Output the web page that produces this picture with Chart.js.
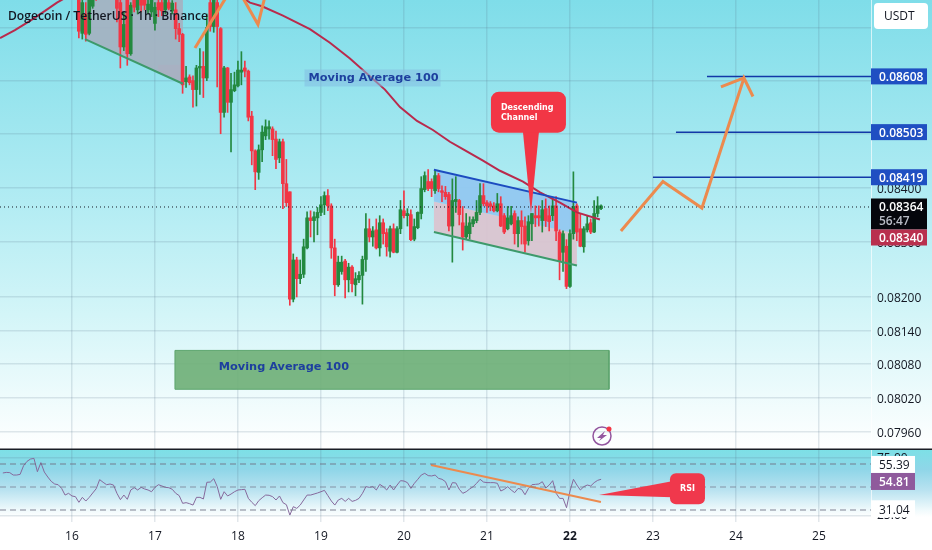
<!DOCTYPE html>
<html>
<head>
<meta charset="utf-8">
<title>Dogecoin / TetherUS</title>
<script src="https://cdn.jsdelivr.net/npm/chart.js@4"></script>
<style>
  html, body { margin: 0; padding: 0; background: #fff; }
  canvas { display: block; }
</style>
</head>
<body>
<canvas id="chart" width="932" height="550"></canvas>
<script>
// --- data ---
const dayTicks = [16, 17, 18, 19, 20, 21, 22, 23, 24, 25];
const priceTicks = [0.087, 0.086, 0.085, 0.084, 0.083, 0.082, 0.0814, 0.0808, 0.0802, 0.0796];
const rsiTicks = [75, 25];
const rsiLevels = [70, 50, 30];

// hourly candles, first one at 16.083
const firstCandleDay = 16.083;
const opens = [
  0.08759,0.08690,0.08727,0.08690,0.08742,0.08764,0.08768,0.08770,0.08790,0.08810,
  0.08785,0.08759,0.08749,0.08664,0.08755,0.08651,0.08757,0.08735,0.08759,0.08755,
  0.08735,0.08731,0.08709,0.08749,0.08749,0.08735,0.08749,0.08733,0.08735,0.08699,
  0.08688,0.08598,0.08607,0.08600,0.08583,0.08624,0.08627,0.08605,0.08749,0.08703,
  0.08749,0.08699,0.08540,0.08624,0.08559,0.08581,0.08590,0.08616,0.08624,0.08618,
  0.08533,0.08468,0.08428,0.08470,0.08496,0.08509,0.08509,0.08490,0.08455,0.08485,
  0.08407,0.08392,0.08196,0.08267,0.08233,0.08241,0.08289,0.08344,0.08339,0.08344,
  0.08354,0.08368,0.08385,0.08366,0.08289,0.08222,0.08246,0.08265,0.08231,0.08254,
  0.08222,0.08231,0.08239,0.08268,0.08324,0.08309,0.08322,0.08289,0.08335,0.08317,
  0.08283,0.08324,0.08281,0.08324,0.08357,0.08348,0.08350,0.08305,0.08326,0.08352,
  0.08396,0.08411,0.08411,0.08394,0.08422,0.08394,0.08391,0.08387,0.08329,0.08374,
  0.08376,0.08335,0.08309,0.08315,0.08333,0.08339,0.08354,0.08385,0.08372,0.08370,
  0.08366,0.08357,0.08370,0.08348,0.08324,0.08333,0.08352,0.08315,0.08339,0.08329,
  0.08302,0.08333,0.08348,0.08348,0.08339,0.08361,0.08348,0.08348,0.08366,0.08318,
  0.08281,0.08292,0.08219,0.08315,0.08366,0.08324,0.08291,0.08322,0.08335,0.08318,
  0.08352,0.08361
];
const closes = [
  0.08694,0.08749,0.08688,0.08755,0.08764,0.08755,0.08761,0.08790,0.08810,0.08785,
  0.08765,0.08738,0.08664,0.08707,0.08651,0.08744,0.08740,0.08759,0.08744,0.08744,
  0.08746,0.08755,0.08740,0.08735,0.08733,0.08755,0.08738,0.08748,0.08699,0.08688,
  0.08592,0.08605,0.08596,0.08583,0.08624,0.08627,0.08605,0.08701,0.08703,0.08759,
  0.08703,0.08540,0.08624,0.08559,0.08583,0.08592,0.08620,0.08620,0.08618,0.08531,
  0.08468,0.08429,0.08470,0.08503,0.08513,0.08513,0.08489,0.08452,0.08485,0.08407,
  0.08372,0.08196,0.08267,0.08233,0.08241,0.08291,0.08344,0.08339,0.08346,0.08354,
  0.08368,0.08385,0.08366,0.08289,0.08222,0.08263,0.08263,0.08231,0.08254,0.08224,
  0.08233,0.08239,0.08268,0.08324,0.08309,0.08320,0.08289,0.08335,0.08315,0.08291,
  0.08324,0.08281,0.08324,0.08359,0.08348,0.08352,0.08304,0.08328,0.08354,0.08398,
  0.08422,0.08398,0.08398,0.08422,0.08398,0.08391,0.08383,0.08329,0.08376,0.08378,
  0.08350,0.08309,0.08329,0.08335,0.08341,0.08354,0.08385,0.08370,0.08366,0.08365,
  0.08357,0.08370,0.08329,0.08318,0.08344,0.08348,0.08315,0.08339,0.08328,0.08296,
  0.08337,0.08352,0.08344,0.08344,0.08359,0.08339,0.08337,0.08366,0.08320,0.08265,
  0.08315,0.08219,0.08315,0.08365,0.08318,0.08292,0.08324,0.08333,0.08318,0.08352,
  0.08366,0.08366
];
const highs = [
  0.08764,0.08757,0.08749,0.08764,0.08768,0.08768,0.08775,0.08800,0.08820,0.08825,
  0.08795,0.08764,0.08759,0.08731,0.08759,0.08749,0.08761,0.08764,0.08764,0.08761,
  0.08757,0.08761,0.08749,0.08759,0.08757,0.08761,0.08755,0.08753,0.08749,0.08709,
  0.08690,0.08627,0.08611,0.08609,0.08629,0.08661,0.08655,0.08727,0.08761,0.08764,
  0.08759,0.08701,0.08627,0.08625,0.08614,0.08616,0.08637,0.08655,0.08637,0.08620,
  0.08542,0.08470,0.08479,0.08515,0.08526,0.08524,0.08513,0.08505,0.08490,0.08490,
  0.08452,0.08392,0.08278,0.08272,0.08267,0.08305,0.08355,0.08357,0.08355,0.08363,
  0.08383,0.08392,0.08396,0.08370,0.08305,0.08274,0.08274,0.08268,0.08261,0.08257,
  0.08244,0.08246,0.08274,0.08352,0.08342,0.08328,0.08342,0.08348,0.08342,0.08324,
  0.08329,0.08333,0.08328,0.08376,0.08394,0.08361,0.08359,0.08342,0.08355,0.08420,
  0.08429,0.08433,0.08416,0.08431,0.08426,0.08403,0.08402,0.08391,0.08416,0.08420,
  0.08378,0.08365,0.08352,0.08346,0.08346,0.08376,0.08407,0.08407,0.08376,0.08374,
  0.08372,0.08389,0.08383,0.08352,0.08365,0.08365,0.08357,0.08346,0.08357,0.08346,
  0.08348,0.08352,0.08366,0.08366,0.08376,0.08379,0.08366,0.08379,0.08383,0.08322,
  0.08320,0.08304,0.08322,0.08429,0.08370,0.08352,0.08328,0.08348,0.08342,0.08376,
  0.08383,0.08368
];
const lows = [
  0.08681,0.08679,0.08675,0.08687,0.08738,0.08753,0.08759,0.08765,0.08785,0.08780,
  0.08758,0.08712,0.08624,0.08657,0.08629,0.08648,0.08731,0.08727,0.08731,0.08735,
  0.08727,0.08722,0.08696,0.08722,0.08724,0.08727,0.08735,0.08727,0.08679,0.08674,
  0.08576,0.08587,0.08592,0.08550,0.08552,0.08574,0.08568,0.08600,0.08694,0.08692,
  0.08588,0.08500,0.08531,0.08540,0.08466,0.08579,0.08588,0.08592,0.08607,0.08524,
  0.08442,0.08396,0.08415,0.08448,0.08489,0.08490,0.08459,0.08435,0.08446,0.08361,
  0.08365,0.08185,0.08191,0.08200,0.08224,0.08235,0.08287,0.08309,0.08300,0.08313,
  0.08348,0.08350,0.08357,0.08270,0.08202,0.08219,0.08241,0.08198,0.08209,0.08209,
  0.08202,0.08226,0.08187,0.08246,0.08300,0.08292,0.08287,0.08274,0.08296,0.08274,
  0.08272,0.08280,0.08280,0.08315,0.08344,0.08329,0.08302,0.08302,0.08324,0.08342,
  0.08392,0.08394,0.08383,0.08389,0.08392,0.08374,0.08378,0.08320,0.08263,0.08354,
  0.08331,0.08285,0.08305,0.08305,0.08328,0.08335,0.08350,0.08366,0.08354,0.08357,
  0.08355,0.08355,0.08328,0.08315,0.08322,0.08331,0.08296,0.08291,0.08296,0.08281,
  0.08294,0.08302,0.08328,0.08329,0.08318,0.08328,0.08320,0.08339,0.08302,0.08231,
  0.08246,0.08215,0.08217,0.08305,0.08302,0.08291,0.08281,0.08318,0.08315,0.08317,
  0.08346,0.08359
];

// moving average 100
const maDays = [15.133,15.313,15.494,15.675,15.819,16.337,17.181,17.783,18.145,18.289,18.542,18.867,19.108,19.349,19.771,19.952,20.157,20.349,20.554,20.699,20.952,21.157,21.434,21.639,21.880,22.084,22.361];
const maPrices = [0.08681,0.08696,0.08714,0.08733,0.08749,0.08796,0.08823,0.08787,0.08749,0.08742,0.08724,0.08698,0.08672,0.08642,0.08583,0.08550,0.08524,0.08507,0.08485,0.08472,0.08450,0.08431,0.08411,0.08391,0.08372,0.08354,0.08341];

// RSI, hourly, first point at 15.167
const firstRsiDay = 15.167;
const rsiValues = [
  62.2,62.7,62.5,60.4,60.4,61.0,68.5,72.3,74.3,74.9,63.3,71.2,63.0,58.7,54.9,52.6,52.0,48.8,43.0,44.5,
  42.2,41.6,36.7,41.0,37.8,41.0,44.8,48.5,56.4,54.1,52.0,52.6,51.7,44.5,39.0,43.0,39.3,47.4,49.4,47.4,
  49.7,48.3,47.4,45.9,49.7,52.0,50.9,49.7,49.4,48.0,44.5,42.5,35.8,36.4,35.5,34.3,41.0,41.0,39.6,54.1,
  54.3,57.2,50.3,39.3,45.9,42.2,43.9,45.9,47.4,47.7,48.0,40.1,36.7,33.8,38.1,40.7,43.0,42.8,41.6,38.7,
  42.2,36.4,34.6,25.6,32.9,31.4,34.3,38.7,43.0,43.0,43.9,44.8,45.9,47.1,42.5,37.8,34.3,38.7,40.1,37.5,
  40.1,37.5,38.4,40.1,44.5,50.3,49.7,50.3,47.4,52.3,50.3,47.4,51.7,47.4,51.7,55.5,55.2,53.8,48.8,53.2,
  56.7,60.4,61.9,59.9,59.6,60.4,57.5,56.7,54.6,47.4,53.8,53.5,48.0,44.5,45.9,48.3,50.3,53.2,56.7,54.3,
  53.8,53.8,53.8,53.2,46.5,48.0,50.3,47.4,45.1,48.8,48.0,43.3,48.8,52.0,52.3,52.6,54.6,49.1,51.7,55.5,
  44.5,40.1,40.1,32.0,46.5,56.7,51.7,47.4,50.3,51.7,50.9,53.8,55.8,56.7
];

// drawn channels
const channel1Days = [16.157, 17.337, 17.337, 16.157];
const channel1Prices = [0.08679, 0.08594, 0.08759, 0.08759];
const channel1PinkDays = [17.036, 17.337, 17.337, 17.036];
const channel1PinkPrices = [0.08630, 0.08630, 0.08594, 0.08616];
const channel2Days = [20.361, 22.084];
const channel2Top = [0.08433, 0.08372];
const channel2Mid = [0.08374, 0.08315];
const channel2Bottom = [0.08318, 0.08257];

// orange drawings
const arrowDays = [22.614, 23.120, 23.590, 24.096, 24.205, 24.096, 23.819];
const arrowPrices = [0.08320, 0.08411, 0.08362, 0.08605, 0.08570, 0.08605, 0.08588];
const oldArrowDays = [17.482, 17.892];
const oldArrowPrices = [0.08662, 0.08768];
const oldHeadDays = [18.024, 18.241, 18.337];
const oldHeadPrices = [0.08768, 0.08707, 0.08768];
const rsiTrendDays = [20.325, 22.373];
const rsiTrendValues = [69.1, 37.0];

// target levels
const levelPrices = [0.08608, 0.08503, 0.08419];
const levelStartDays = [23.651, 23.277, 23.0];
const lastPrice = 0.08364;
const closePrice = 0.08340;
const rsiLabels = [55.39, 54.81, 31.04];

// green zone
const zoneDays = [17.241, 22.470, 22.470, 17.241, 17.241];
const zonePrices = [0.08104, 0.08104, 0.08035, 0.08035, 0.08104];

const xMin = 15.133, xMax = 25.627;
const green = '#23893f', red = '#f23645', orange = '#ec8a4e', lineBlue = '#1c4cc0';

const pts = (xs, ys) => xs.map((x, i) => ({ x: x, y: ys[i] }));
const candleDay = i => firstCandleDay + i / 24;
const candleColors = opens.map((o, i) => closes[i] < o ? red : green);

function lineSet(data, color, width, extra) {
  return Object.assign({
    type: 'line', data: data, borderColor: color, borderWidth: width,
    pointRadius: 0, tension: 0, fill: false, yAxisID: 'y', order: 1
  }, extra || {});
}
function shapeSet(data, color) {
  return lineSet(data, 'transparent', 0, { fill: 'shape', backgroundColor: color, order: 9 });
}

const datasets = [
  shapeSet(pts(zoneDays, zonePrices), 'rgba(112,176,120,0.92)'),
  shapeSet(pts(channel1Days, channel1Prices), 'rgba(165,176,192,0.9)'),
  shapeSet(pts(channel1PinkDays, channel1PinkPrices), 'rgba(200,180,205,0.9)'),
  shapeSet(pts(channel2Days.concat(channel2Days.slice().reverse()), channel2Top.concat(channel2Mid.slice().reverse())), 'rgba(146,200,240,0.95)'),
  shapeSet(pts(channel2Days.concat(channel2Days.slice().reverse()), channel2Mid.concat(channel2Bottom.slice().reverse())), 'rgba(218,196,208,0.95)'),
  // wicks and bodies as floating bars
  { type: 'bar', data: lows.map((l, i) => ({ x: candleDay(i), y: [l, highs[i]] })), backgroundColor: candleColors, barThickness: 1, grouped: false, yAxisID: 'y', order: 6 },
  { type: 'bar', data: opens.map((o, i) => ({ x: candleDay(i), y: [o, closes[i]] })), backgroundColor: candleColors, barThickness: 3, minBarLength: 1, grouped: false, yAxisID: 'y', order: 5 },
  lineSet(pts(maDays, maPrices), '#b92a4c', 2, { order: 3 }),
  lineSet(pts(zoneDays.slice(0, 5), zonePrices), '#5ea56e', 1, { order: 4 }),
  lineSet(pts([channel1Days[0], channel1Days[1]], [channel1Prices[0], channel1Prices[1]]), '#3d9a6b', 2),
  lineSet(pts(channel2Days, channel2Top), lineBlue, 2),
  lineSet(pts(channel2Days, channel2Bottom), '#3d9a6b', 2),
  lineSet(pts(arrowDays, arrowPrices), orange, 3),
  lineSet(pts(oldArrowDays, oldArrowPrices), orange, 3),
  lineSet(pts(oldHeadDays, oldHeadPrices), orange, 3),
  lineSet(pts([xMin, xMax], [lastPrice, lastPrice]), '#131722', 1, { borderDash: [1, 3] })
];
levelPrices.forEach((p, i) => {
  datasets.push(lineSet(pts([levelStartDays[i], xMax], [p, p]), '#1238a8', 1.5));
});
rsiLevels.forEach((v, i) => {
  datasets.push(lineSet(pts([xMin, xMax], [v, v]), 'rgba(110,110,130,0.85)', i === 1 ? 0.8 : 1.1, { yAxisID: 'y2', borderDash: [6, 4] }));
});
datasets.push(lineSet(rsiValues.map((v, i) => ({ x: firstRsiDay + i / 24, y: v })), '#86699c', 1, { yAxisID: 'y2', order: 2 }));
datasets.push(lineSet(pts(rsiTrendDays, rsiTrendValues), orange, 2, { yAxisID: 'y2' }));

function roundBox(ctx, x, y, w, h, r, color) {
  ctx.fillStyle = color;
  ctx.beginPath();
  ctx.roundRect(x, y, w, h, r);
  ctx.fill();
}

// panes background drawn behind everything
const panesBg = {
  id: 'panesBg',
  beforeDraw(chart) {
    const ctx = chart.ctx, sep = chart.scales.y.bottom;
    let g = ctx.createLinearGradient(0, 0, 0, sep);
    g.addColorStop(0, '#7fdde9');
    g.addColorStop(0.45, '#b2ecf3');
    g.addColorStop(0.7, '#d3f5f8');
    g.addColorStop(1, '#ffffff');
    ctx.fillStyle = g;
    ctx.fillRect(0, 0, chart.width, sep);
    g = ctx.createLinearGradient(0, sep, 0, sep + 68);
    g.addColorStop(0, '#7ce0e6');
    g.addColorStop(0.3, '#8fd6e8');
    g.addColorStop(0.6, '#b8e2f0');
    g.addColorStop(0.9, '#f0fafc');
    g.addColorStop(1, '#ffffff');
    ctx.fillStyle = g;
    ctx.fillRect(0, sep, chart.width, 68);
  }
};

// callouts, price badges and the other bits on top
const overlay = {
  id: 'overlay',
  afterDraw(chart) {
    const ctx = chart.ctx, X = chart.scales.x, Y = chart.scales.y, R = chart.scales.y2;
    const right = chart.chartArea.right;
    const uiFont = '"Open Sans", sans-serif';
    ctx.save();

    // axis edge and pane separator
    ctx.fillStyle = 'rgba(255,255,255,0.65)';
    ctx.fillRect(right, 0, 1, chart.chartArea.bottom);
    ctx.fillStyle = '#1b1e26';
    ctx.fillRect(0, Y.bottom - 0.5, chart.width, 1.5);

    // title
    ctx.fillStyle = '#131722';
    ctx.textBaseline = 'middle';
    ctx.textAlign = 'left';
    ctx.font = '600 12.1px ' + uiFont;
    ctx.fillText('Dogecoin / TetherUS · 1h · Binance', 8, 16.5);

    // moving average notes
    ctx.font = 'bold 11.3px "DejaVu Sans", sans-serif';
    const noteX = X.getPixelForValue(18.85), noteY = Y.getPixelForValue(0.08605);
    ctx.fillStyle = 'rgba(132,190,226,0.55)';
    ctx.fillRect(noteX - 4, noteY - 8.5, 136, 17);
    ctx.fillStyle = '#1d3f9e';
    ctx.fillText('Moving Average 100', noteX, noteY + 0.5);
    ctx.fillText('Moving Average 100', X.getPixelForValue(17.77), Y.getPixelForValue(0.08074));

    // descending channel callout
    const boxX = X.getPixelForValue(21.048), boxY = Y.getPixelForValue(0.08579);
    const tipX = X.getPixelForValue(21.53), tipY = Y.getPixelForValue(0.08352);
    ctx.fillStyle = red;
    ctx.beginPath();
    ctx.moveTo(tipX - 9, boxY + 30);
    ctx.lineTo(tipX, tipY);
    ctx.lineTo(tipX + 9, boxY + 30);
    ctx.closePath();
    ctx.fill();
    roundBox(ctx, boxX, boxY, 75, 41, 8, red);
    ctx.fillStyle = '#fff';
    ctx.font = 'bold 8px "DejaVu Sans", sans-serif';
    ctx.fillText('Descending', boxX + 10, boxY + 16);
    ctx.fillText('Channel', boxX + 10, boxY + 26.5);

    // RSI callout
    const rBoxX = X.getPixelForValue(23.205), rBoxY = R.getPixelForValue(62);
    ctx.fillStyle = '#f0384c';
    ctx.beginPath();
    ctx.moveTo(rBoxX + 2, rBoxY + 8);
    ctx.lineTo(X.getPixelForValue(22.35), R.getPixelForValue(43));
    ctx.lineTo(rBoxX + 2, rBoxY + 24);
    ctx.closePath();
    ctx.fill();
    roundBox(ctx, rBoxX, rBoxY, 35, 31, 6, '#f0384c');
    ctx.fillStyle = '#fff';
    ctx.textAlign = 'center';
    ctx.font = 'bold 8px "DejaVu Sans", sans-serif';
    ctx.fillText('RSI', rBoxX + 17.5, rBoxY + 15.5);
    ctx.textAlign = 'left';

    // price badges
    function badge(y, h, bg, text, color) {
      ctx.fillStyle = bg;
      ctx.fillRect(right, y, 56, h);
      ctx.fillStyle = color || '#fff';
      ctx.font = '600 12px ' + uiFont;
      ctx.fillText(text, right + 8, y + 9.5);
    }
    levelPrices.forEach(p => {
      badge(Y.getPixelForValue(p) - 8, 16, '#1f4fc2', p.toFixed(5));
    });
    const lastY = Y.getPixelForValue(lastPrice) - 8.5;
    badge(lastY, 31, '#05060c', lastPrice.toFixed(5));
    ctx.fillStyle = '#b9bcc6';
    ctx.font = '600 12px ' + uiFont;
    ctx.fillText('56:47', right + 8, lastY + 23);
    badge(lastY + 31, 16, '#b9304e', closePrice.toFixed(5));

    // USDT button
    roundBox(ctx, right + 3, 3, 54, 26, 4, '#ffffff');
    ctx.fillStyle = '#131722';
    ctx.font = '12px ' + uiFont;
    ctx.fillText('USDT', right + 13, 17);

    // RSI labels
    const midY = R.getPixelForValue(rsiLabels[1]);
    function rsiBadge(cy, bg, text, color) {
      ctx.fillStyle = bg;
      ctx.fillRect(right, cy - 8.5, 44, 17);
      ctx.fillStyle = color;
      ctx.font = (color === '#fff' ? '600 ' : '') + '12px ' + uiFont;
      ctx.fillText(text, right + 8, cy + 1.5);
    }
    rsiBadge(midY - 17, '#ffffff', rsiLabels[0].toFixed(2), '#131722');
    rsiBadge(midY, '#8f5a9c', rsiLabels[1].toFixed(2), '#fff');
    rsiBadge(R.getPixelForValue(rsiLabels[2]), '#ffffff', rsiLabels[2].toFixed(2), '#131722');

    // little flash icon
    ctx.strokeStyle = '#93569f';
    ctx.lineWidth = 1.5;
    ctx.beginPath();
    ctx.arc(602, 436, 9, 0, Math.PI * 2);
    ctx.stroke();
    ctx.fillStyle = '#93569f';
    ctx.beginPath();
    ctx.moveTo(605, 431);
    ctx.lineTo(597, 438);
    ctx.lineTo(601, 438);
    ctx.lineTo(599, 441);
    ctx.lineTo(607, 435);
    ctx.lineTo(603, 435);
    ctx.closePath();
    ctx.fill();
    ctx.fillStyle = '#f23645';
    ctx.beginPath();
    ctx.arc(609, 429, 2.5, 0, Math.PI * 2);
    ctx.fill();
    ctx.restore();
  }
};

const gridLook = { color: 'rgba(85,115,135,0.17)', lineWidth: 1.5, drawTicks: false, offset: false };
const axisFont = { family: '"Open Sans", sans-serif', size: 12 };
const noPad = s => { s.paddingTop = 0; s.paddingBottom = 0; s.paddingLeft = 0; s.paddingRight = 0; };

new Chart(document.getElementById('chart').getContext('2d'), {
  type: 'bar',
  data: { datasets: datasets },
  plugins: [panesBg, overlay],
  options: {
    responsive: false,
    animation: false,
    events: [],
    layout: { padding: 0 },
    plugins: { legend: { display: false }, tooltip: { enabled: false } },
    scales: {
      x: {
        type: 'linear', min: xMin, max: xMax, offset: false,
        grid: gridLook, border: { display: false },
        afterBuildTicks: s => { s.ticks = dayTicks.map(v => ({ value: v })); },
        afterFit: s => { s.height = 28; noPad(s); },
        ticks: {
          autoSkip: false, maxRotation: 0, padding: 7, color: '#131722',
          font: c => c.tick && c.tick.value === 22 ? Object.assign({ weight: 'bold' }, axisFont) : axisFont,
          callback: v => String(v)
        }
      },
      y: {
        type: 'logarithmic', position: 'right', stack: 'panes', stackWeight: 449,
        min: 0.0793, max: 0.08754,
        grid: gridLook, border: { display: false },
        afterBuildTicks: s => { s.ticks = priceTicks.map(v => ({ value: v })); },
        afterFit: s => { s.width = 61; noPad(s); },
        // the upper labels are covered by the level badges in the original
        ticks: { autoSkip: false, padding: 6, labelOffset: 2, color: '#131722', font: axisFont, callback: v => v > 0.0845 ? '' : v.toFixed(5) }
      },
      y2: {
        type: 'linear', position: 'right', stack: 'panes', stackWeight: 73,
        min: 19.57, max: 83.04,
        grid: gridLook, border: { display: false },
        afterBuildTicks: s => { s.ticks = rsiTicks.map(v => ({ value: v })); },
        afterFit: s => { s.width = 61; noPad(s); },
        ticks: { autoSkip: false, padding: 6, color: '#131722', font: axisFont, callback: v => v.toFixed(2) }
      }
    }
  }
});
</script>
</body>
</html>
